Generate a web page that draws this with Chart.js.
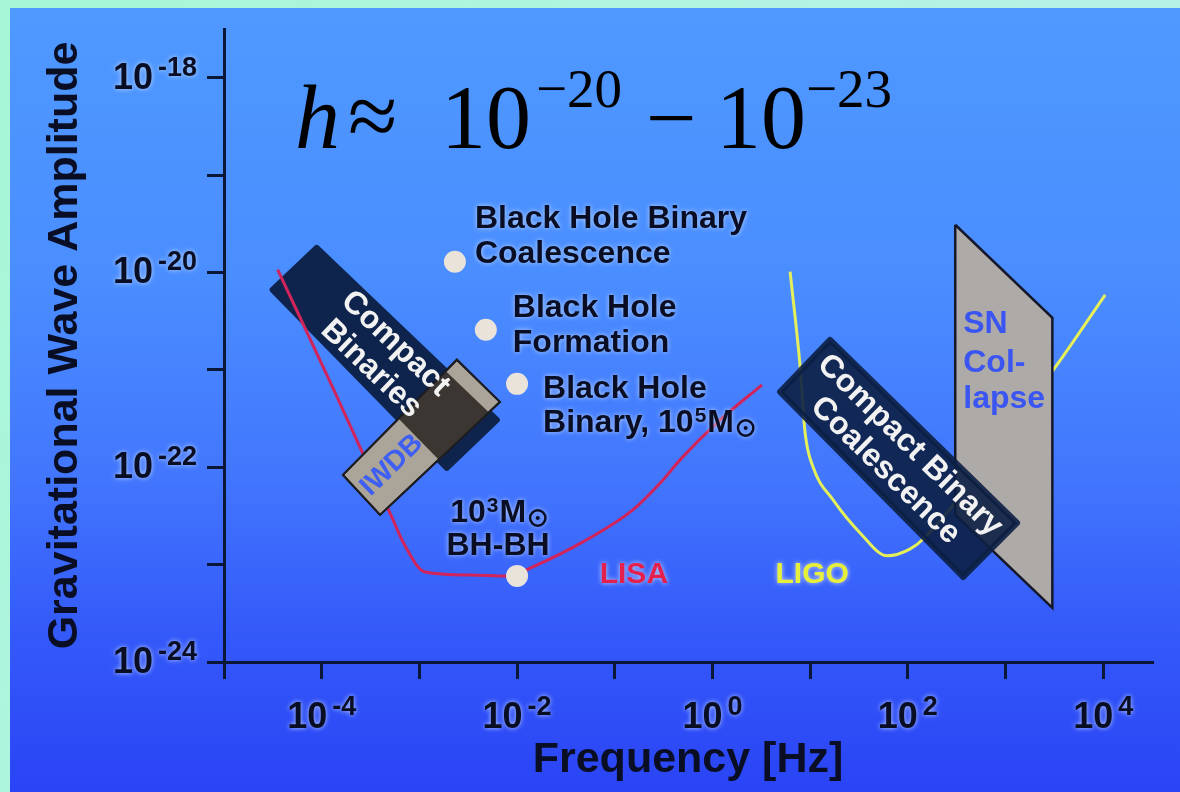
<!DOCTYPE html>
<html>
<head>
<meta charset="utf-8">
<title>Gravitational wave amplitude vs frequency</title>
<script src="https://cdn.jsdelivr.net/npm/chart.js@4.4.1/dist/chart.umd.min.js"></script>
<style>
  html, body { margin: 0; padding: 0; background: #b2f3e4; overflow: hidden; }
  canvas { display: block; }
</style>
</head>
<body>
<canvas id="gwChart" width="1180" height="792"></canvas>
<script>
// frequency in Hz, amplitude as dimensionless strain h
const lisaFreq = [3.54e-5, 1.36e-4, 5.21e-4, 7.08e-4, 1.14e-3, 3.28e-3, 8.43e-3, 1.45e-2, 4.72e-2, 0.153, 0.312, 0.466, 1.20, 3.22];
const lisaAmp  = [1.07e-20, 5.94e-22, 3.09e-23, 1.58e-23, 8.41e-24, 7.83e-24, 7.65e-24, 9.46e-24, 1.71e-23, 3.65e-23, 7.41e-23, 1.19e-22, 3.06e-22, 7.02e-22];

const ligoFreq = [6.24, 7.91, 8.89, 10.7, 17.2, 32.5, 61.5, 106, 151, 3090, 10500];
const ligoAmp  = [1.02e-20, 1.07e-21, 2.25e-22, 1.01e-22, 4.61e-23, 2.11e-23, 1.23e-23, 1.45e-23, 1.92e-23, 1.0e-21, 5.9e-21];

// source regions (corners of each band)
const cbFreq   = [3.15e-5, 8.89e-5, 6.21e-3, 1.91e-3];
const cbAmp    = [6.64e-21, 1.79e-20, 3.06e-22, 9.84e-23];
const iwdbFreq = [1.65e-4, 2.42e-3, 6.67e-3, 3.96e-4];
const iwdbAmp  = [8.34e-23, 1.27e-21, 4.69e-22, 3.24e-23];
const cbcFreq  = [4.93, 16.0, 1315, 368];
const cbcAmp   = [5.94e-22, 2.03e-21, 2.68e-23, 7.46e-24];
const snFreq   = [306, 3020, 3020, 306];
const snAmp    = [3.09e-20, 3.42e-21, 3.59e-24, 3.24e-23];

// point sources
const sourceFreq = [2.31e-3, 4.79e-3, 1.0e-2, 1.0e-2];
const sourceAmp  = [1.29e-20, 2.58e-21, 7.18e-22, 7.66e-24];

// axes (decade exponents)
const xDecades = [-5, -4, -3, -2, -1, 0, 1, 2, 3, 4];
const yDecades = [-24, -23, -22, -21, -20, -19, -18];
const xLabelExps = [-4, -2, 0, 2, 4];
const yLabelExps = [-24, -22, -20, -18];

const NAVY = '#0b1736';
const INK = '#0a0e24';
const SANS = '"Liberation Sans", Arial, Helvetica, sans-serif';
const SERIF = '"Liberation Serif", "Times New Roman", serif';

function sansBold(size) { return 'bold ' + size + 'px ' + SANS; }

function curve(fx, hy) { return fx.map((f, i) => ({ x: f, y: hy[i] })); }
function shape(fx, hy) { return curve(fx, hy).concat([{ x: fx[0], y: hy[0] }]); }

function decadeTicks(list) {
  return (scale) => { scale.ticks = list.map(e => ({ value: Math.pow(10, e) })); };
}

function pointsOf(chart, label) {
  const i = chart.data.datasets.findIndex(d => d.label === label);
  return chart.getDatasetMeta(i).data.map(p => ({ x: p.x, y: p.y }));
}

function tracePath(ctx, pts) {
  ctx.beginPath();
  pts.forEach((p, i) => i ? ctx.lineTo(p.x, p.y) : ctx.moveTo(p.x, p.y));
  ctx.closePath();
}

function glow(ctx, color, blur) {
  ctx.shadowColor = color;
  ctx.shadowBlur = blur;
  ctx.shadowOffsetX = 0;
  ctx.shadowOffsetY = 0;
}

// rich text: strings, {sup: '5'} or {sun: true}
function partWidth(ctx, part, size) {
  if (typeof part === 'string') { ctx.font = sansBold(size); return ctx.measureText(part).width; }
  if (part.sup !== undefined) { ctx.font = sansBold(Math.round(size * 0.66)); return ctx.measureText(part.sup).width + 2; }
  return size * 0.62;
}

function drawRich(ctx, parts, x, y, size, align, color) {
  const widths = parts.map(p => partWidth(ctx, p, size));
  const total = widths.reduce((a, b) => a + b, 0);
  let cx = align === 'center' ? x - total / 2 : x;
  ctx.fillStyle = color;
  ctx.strokeStyle = color;
  ctx.textAlign = 'left';
  ctx.textBaseline = 'alphabetic';
  parts.forEach((p, i) => {
    if (typeof p === 'string') {
      ctx.font = sansBold(size);
      ctx.fillText(p, cx, y);
    } else if (p.sup !== undefined) {
      ctx.font = sansBold(Math.round(size * 0.66));
      ctx.fillText(p.sup, cx + 1, y - size * 0.3);
    } else {
      const r = size * 0.24;
      ctx.lineWidth = 2.5;
      ctx.beginPath();
      ctx.arc(cx + 4 + r, y - r * 0.5, r, 0, Math.PI * 2);
      ctx.stroke();
      ctx.beginPath();
      ctx.arc(cx + 4 + r, y - r * 0.5, 2, 0, Math.PI * 2);
      ctx.fill();
    }
    cx += widths[i];
  });
}

function drawPow(ctx, exp, x, y, align) {
  ctx.font = sansBold(36);
  const w1 = ctx.measureText('10').width;
  ctx.font = sansBold(27);
  const w2 = ctx.measureText(exp).width;
  const gap = 5;
  const x0 = align === 'center' ? x - (w1 + gap + w2) / 2 : x - (w1 + gap + w2);
  ctx.textAlign = 'left';
  ctx.textBaseline = 'alphabetic';
  ctx.font = sansBold(36);
  ctx.fillText('10', x0, y);
  ctx.font = sansBold(27);
  ctx.fillText(exp, x0 + w1 + gap, y - 13);
}

// text lines centred on a point, rotated along a direction
function rotatedLines(ctx, lines, cx, cy, angle, size, gap, color) {
  ctx.save();
  ctx.translate(cx, cy);
  ctx.rotate(angle);
  ctx.font = sansBold(size);
  ctx.fillStyle = color;
  ctx.textAlign = 'center';
  ctx.textBaseline = 'middle';
  lines.forEach((t, i) => ctx.fillText(t, 0, (i - (lines.length - 1) / 2) * gap));
  ctx.restore();
}

// labels next to the point sources: offsets from the dot, baselines
const sourceNotes = [
  { dx: 20, align: 'left', lines: [{ dy: -34, parts: ['Black Hole Binary'] }, { dy: 1, parts: ['Coalescence'] }] },
  { dx: 27, align: 'left', lines: [{ dy: -13, parts: ['Black Hole'] }, { dy: 22, parts: ['Formation'] }] },
  { dx: 26, align: 'left', lines: [{ dy: 14, parts: ['Black Hole'] }, { dy: 48, parts: ['Binary, 10', { sup: '5' }, 'M', { sun: true }] }] },
  { dx: -19, align: 'center', lines: [{ dy: -54, parts: ['10', { sup: '3' }, 'M', { sun: true }] }, { dy: -21, parts: ['BH-BH'] }] }
];

const curveNotes = [
  { text: 'LISA', f: 0.157, h: 7.83e-24, color: '#e6204c' },
  { text: 'LIGO', f: 10.5, h: 7.83e-24, color: '#e6f03a' }
];

const backdrop = {
  id: 'backdrop',
  beforeDraw(chart) {
    const ctx = chart.ctx;
    ctx.save();
    const m = ctx.createLinearGradient(0, 0, 1180, 792);
    m.addColorStop(0, '#a6f7d6');
    m.addColorStop(1, '#c0f0ef');
    ctx.fillStyle = m;
    ctx.fillRect(0, 0, chart.width, chart.height);
    const g = ctx.createLinearGradient(0, 8, 0, chart.height);
    g.addColorStop(0, '#4f99ff');
    g.addColorStop(0.35, '#4a8dff');
    g.addColorStop(0.6, '#4276fd');
    g.addColorStop(0.8, '#3459f9');
    g.addColorStop(1, '#2a44f5');
    ctx.fillStyle = g;
    ctx.fillRect(10, 8, chart.width - 10, chart.height - 8);
    ctx.restore();
  }
};

const overlay = {
  id: 'overlay',
  afterDraw(chart) {
    const ctx = chart.ctx;
    const xs = chart.scales.x;
    const ys = chart.scales.y;

    // overlap of the compact binary band with the IWDB band
    const cb = pointsOf(chart, 'Compact Binaries').slice(0, 4);
    const iw = pointsOf(chart, 'IWDB').slice(0, 4);
    ctx.save();
    tracePath(ctx, iw);
    ctx.clip();
    tracePath(ctx, cb);
    ctx.fillStyle = '#3b3631';
    ctx.fill();
    ctx.restore();
    ctx.save();
    tracePath(ctx, iw);
    ctx.strokeStyle = '#1c1c22';
    ctx.lineWidth = 2;
    ctx.stroke();
    ctx.restore();

    // band captions
    const centre = p => ({ x: p.reduce((s, q) => s + q.x, 0) / p.length, y: p.reduce((s, q) => s + q.y, 0) / p.length });
    const c1 = centre(cb);
    rotatedLines(ctx, ['Compact', 'Binaries'], c1.x, c1.y, Math.atan2(cb[2].y - cb[1].y, cb[2].x - cb[1].x), 32, 35, '#f2f2f2');

    const a = { x: (iw[0].x + iw[3].x) / 2, y: (iw[0].y + iw[3].y) / 2 };
    const b = { x: (iw[1].x + iw[2].x) / 2, y: (iw[1].y + iw[2].y) / 2 };
    rotatedLines(ctx, ['IWDB'], a.x + 0.26 * (b.x - a.x), a.y + 0.26 * (b.y - a.y), Math.atan2(b.y - a.y, b.x - a.x), 28, 30, '#3f5ef2');

    const cbc = pointsOf(chart, 'Compact Binary Coalescence').slice(0, 4);
    const c2 = centre(cbc);
    rotatedLines(ctx, ['Compact Binary', 'Coalescence'], c2.x, c2.y, Math.atan2(cbc[2].y - cbc[1].y, cbc[2].x - cbc[1].x), 32, 35, '#f2f2f2');

    const sn = pointsOf(chart, 'SN Collapse');
    ctx.save();
    ctx.font = sansBold(32);
    ctx.fillStyle = '#3a55f2';
    ctx.textAlign = 'left';
    ctx.textBaseline = 'alphabetic';
    ctx.fillText('SN', sn[0].x + 8, sn[0].y + 108);
    ctx.fillText('Col-', sn[0].x + 8, sn[0].y + 147);
    ctx.fillText('lapse', sn[0].x + 8, sn[0].y + 183);
    ctx.restore();

    // point source labels
    const dots = pointsOf(chart, 'Sources');
    ctx.save();
    glow(ctx, 'rgba(205,225,255,0.85)', 5);
    sourceNotes.forEach((n, i) => {
      n.lines.forEach(l => drawRich(ctx, l.parts, dots[i].x + n.dx, dots[i].y + l.dy, 32, n.align, INK));
    });
    ctx.restore();

    // curve names
    ctx.save();
    glow(ctx, 'rgba(255,255,255,0.75)', 5);
    curveNotes.forEach(n => {
      ctx.font = sansBold(30);
      ctx.fillStyle = n.color;
      ctx.textAlign = 'center';
      ctx.textBaseline = 'middle';
      ctx.fillText(n.text, xs.getPixelForValue(n.f), ys.getPixelForValue(n.h));
    });
    ctx.restore();

    // tick labels as powers of ten
    ctx.save();
    glow(ctx, 'rgba(210,228,255,0.85)', 5);
    ctx.fillStyle = INK;
    yLabelExps.forEach(e => drawPow(ctx, String(e), 197, ys.getPixelForValue(Math.pow(10, e)) + 11, 'right'));
    xLabelExps.forEach(e => drawPow(ctx, String(e), xs.getPixelForValue(Math.pow(10, e)), 728, 'center'));
    ctx.restore();

    // formula
    ctx.save();
    ctx.fillStyle = '#000000';
    ctx.textAlign = 'left';
    ctx.textBaseline = 'alphabetic';
    ctx.font = 'italic 90px ' + SERIF;
    ctx.fillText('h', 295, 148);
    ctx.font = '90px ' + SERIF;
    ctx.fillText('\u2248', 348, 146);
    ctx.fillText('10', 441, 148);
    ctx.fillText('\u2212', 646, 148);
    ctx.fillText('10', 716, 148);
    ctx.font = '55px ' + SERIF;
    ctx.fillText('\u221220', 536, 107);
    ctx.fillText('\u221223', 806, 107);
    ctx.restore();
  }
};

const gridStyle = { drawOnChartArea: false, drawTicks: true, tickLength: 17, tickWidth: 3, tickColor: NAVY, color: NAVY, lineWidth: 3 };
const borderStyle = { display: true, color: NAVY, width: 3 };

new Chart(document.getElementById('gwChart'), {
  type: 'scatter',
  data: {
    datasets: [
      { label: 'LIGO', data: curve(ligoFreq, ligoAmp), showLine: true, borderColor: '#e4ef5a', borderWidth: 3,
        pointRadius: 0, cubicInterpolationMode: 'monotone', fill: false, order: 10 },
      { label: 'SN Collapse', data: shape(snFreq, snAmp), showLine: true, backgroundColor: '#adaaa7', borderColor: '#15182a',
        borderWidth: 2.5, borderJoinStyle: 'miter', pointRadius: 0, fill: 'shape', order: 9 },
      { label: 'Compact Binary Coalescence', data: shape(cbcFreq, cbcAmp), showLine: true, backgroundColor: 'rgba(12,31,68,0.9)',
        borderColor: 'rgba(12,31,68,0.9)', borderWidth: 6, borderJoinStyle: 'round', borderCapStyle: 'round', pointRadius: 0, fill: 'shape', order: 8 },
      { label: 'Compact Binaries', data: shape(cbFreq, cbAmp), showLine: true, backgroundColor: '#0e244d',
        borderColor: '#0e244d', borderWidth: 6, borderJoinStyle: 'round', borderCapStyle: 'round', pointRadius: 0, fill: 'shape', order: 7 },
      { label: 'LISA', data: curve(lisaFreq, lisaAmp), showLine: true, borderColor: '#d0245a', borderWidth: 3,
        pointRadius: 0, cubicInterpolationMode: 'monotone', fill: false, order: 6 },
      { label: 'IWDB', data: shape(iwdbFreq, iwdbAmp), showLine: true, backgroundColor: '#aba499', borderColor: '#1c1c22',
        borderWidth: 2, pointRadius: 0, fill: 'shape', order: 5 },
      { label: 'Sources', data: curve(sourceFreq, sourceAmp), showLine: false, pointRadius: 11,
        pointBackgroundColor: '#e9e3da', pointBorderWidth: 0, order: 1 }
    ]
  },
  options: {
    responsive: false,
    devicePixelRatio: 1,
    animation: false,
    events: [],
    layout: { padding: { left: 0, right: 28, top: 29, bottom: 0 } },
    plugins: { legend: { display: false }, tooltip: { enabled: false } },
    scales: {
      x: {
        type: 'logarithmic', position: 'bottom', bounds: 'data',
        min: 1e-5, max: Math.pow(10, 4.5),
        afterBuildTicks: decadeTicks(xDecades),
        afterFit: (s) => { s.height = 130; },
        ticks: { display: false },
        grid: gridStyle,
        border: borderStyle,
        title: { display: true, text: 'Frequency [Hz]', color: INK, padding: { top: 0, bottom: 6 },
                 font: { family: SANS, size: 43, weight: 'bold' } }
      },
      y: {
        type: 'logarithmic', position: 'left', bounds: 'data',
        min: 1e-24, max: Math.pow(10, -17.5),
        afterBuildTicks: decadeTicks(yDecades),
        afterFit: (s) => { s.width = 224; },
        ticks: { display: false },
        grid: gridStyle,
        border: borderStyle,
        title: { display: true, text: 'Gravitational Wave Amplitude', color: INK, padding: { top: 39, bottom: 0 },
                 font: { family: SANS, size: 43, weight: 'bold' } }
      }
    }
  },
  plugins: [backdrop, overlay]
});
</script>
</body>
</html>
